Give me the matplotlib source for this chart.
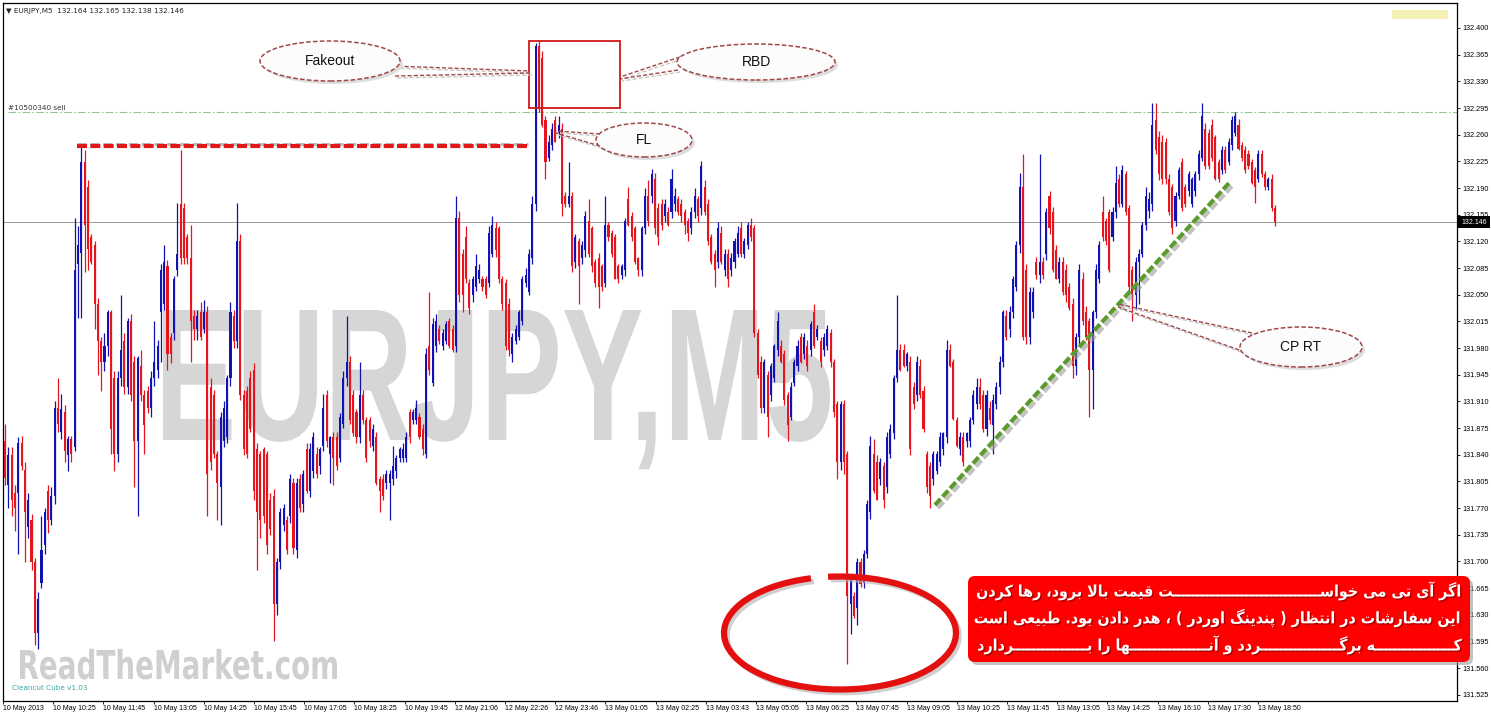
import re
import numpy as np
import matplotlib
matplotlib.use("Agg")
import matplotlib.pyplot as plt
from matplotlib.patches import Rectangle, Ellipse, Arc, FancyBboxPatch, PathPatch
from matplotlib.textpath import TextPath
from matplotlib.font_manager import FontProperties
from matplotlib.transforms import Affine2D, IdentityTransform
import matplotlib.patheffects as pe

plt.rcParams['font.family'] = ['DejaVu Sans']

# ---------------- data (prices in points of 0.001 above BASE) ----------------
BASE = 131.500
PT = 0.001

open_pts = [
    358,300,340,290,290,355,320,245,254,199, 106,172,221,292,254,286,401,370,396,340,
    360,350,590,605,724,691,626,615,538,489, 461,483,527,440,341,440,489,429,516,461,
    358,456,418,423,401,440,451,527,538,587, 494,500,582,669,664,626,598,522,505,527,
    505,527,429,418,341,297,358,363,440,522, 489,620,418,423,440,451,347,341,347,341,
    281,286,144,199,248,254,259,303,215,308, 275,347,292,319,341,325,352,
    418,341,363,363,336,380,440,461,418,396, 363,418,385,385,352,363,308,308,303,303,
    308,319,336,336,336,396,385,385,390,374, 341,483,434,483,505,483,489,516,505,483,
    650,604,626,565,549,560,571,571,571,565, 604,637,637,571,565,538,472,489,494,516,
    565,554,598,669,877,861,779,730,746,779, 762,768,680,669,680,593,620,598,609,647,
    637,593,598,587,565,642,631,626,587,576, 582,675,653,637,598,
    582,637,680,680,702,664,669,653,658,658, 669,675,669,658,647,637,658,675,664,691,
    669,626,604,593,631,582,604,582,593,604, 637,604,615,642,637,500,461,401,445,418,
    440,478,483,472,418,390,434,456,494,472, 483,478,527,494,489,478,483,500,461,407,
    330,407,341,144,155,139,199,172,210,265, 341,330,308,325,297,341,368,440,478,478,
    456,461,429,418,456,423,341,325,308,319, 330,347,363,478,461,385,347,
    363,358,358,385,407,429,418,374,401,379, 407,429,461,522,505,527,560,615,691,582,
    494,527,593,576,593,604,680,658,609,571, 593,582,560,538,456,494,571,527,516,451,
    527,571,658,647,658,626,658,702,669,708, 664,582,549,593,604,642,660,669,779,757,
    751,751,702,691,647,680,724,691,686,669, 686,708,730,768,762,773,757,724,713,740,
    724,746,762,773,746,740,735,724,713,702, 735,708,691,702,664,
]
high_pts = [
    380,350,350,300,363,365,330,290,262,205, 160,260,270,300,297,410,440,420,405,365,
    365,650,640,745,740,700,630,620,545,495, 500,530,530,450,450,550,500,520,525,470,
    470,478,425,430,450,516,490,590,615,595, 500,575,670,740,670,630,642,530,530,540,
    543,535,440,425,345,396,410,445,540,530, 670,630,425,430,450,460,355,345,350,345,
    290,295,205,270,275,260,315,310,310,315, 320,355,355,370,350,350,420,
    425,365,370,370,395,450,522,470,425,400, 461,425,390,390,380,370,312,315,320,320,
    352,340,350,355,370,400,400,412,395,380, 480,554,520,525,510,505,516,520,510,680,
    660,610,640,570,575,604,590,575,575,640, 653,645,640,575,570,545,500,510,530,575,
    585,610,680,880,883,870,785,760,775,785, 784,775,685,724,685,630,625,620,660,675,
    640,597,605,590,680,645,635,630,590,590, 650,691,658,640,600,
    640,690,700,715,710,670,675,675,665,715, 690,680,675,662,650,665,690,680,725,700,
    675,630,608,645,640,610,610,605,625,640, 645,625,645,650,642,505,470,465,450,460,
    485,527,490,478,422,435,465,490,500,500, 490,515,538,510,495,500,510,505,465,410,
    410,412,345,180,160,205,205,215,280,365, 360,340,335,330,370,380,445,549,485,485,
    475,470,435,470,465,430,345,330,345,345, 370,370,490,485,465,390,370,
    370,370,390,425,440,440,425,425,410,420, 435,470,530,530,535,575,620,710,735,590,
    560,560,600,735,600,664,686,665,615,600, 600,590,565,545,500,590,580,535,520,530,
    590,620,680,650,662,665,719,708,720,712, 668,587,600,610,645,691,685,801,801,765,
    760,755,708,695,685,718,730,695,712,705, 712,740,801,775,768,780,760,728,745,745,
    755,784,790,780,750,745,740,728,718,740, 740,712,705,708,668,
]
low_pts = [
    300,270,260,240,210,320,199,230,188,90, 85,165,210,237,248,275,370,360,330,319,
    330,345,520,520,580,582,590,505,445,423, 450,470,341,319,330,430,420,420,410,297,
    259,410,341,395,390,430,440,461,530,451, 460,490,575,590,590,590,461,490,490,490,
    500,259,320,335,254,248,350,355,430,480, 480,412,340,335,370,280,188,230,250,210,
    235,95,130,190,240,210,250,210,205,265, 265,290,285,310,310,315,345,
    350,303,300,320,330,375,430,380,365,355, 355,380,330,350,345,300,265,280,295,254,
    300,310,330,330,330,355,380,380,360,340, 335,445,430,475,485,478,485,480,475,475,
    540,527,565,525,540,555,565,555,545,560, 600,600,565,530,478,470,461,485,490,510,
    560,550,590,660,790,770,702,725,740,750, 755,653,665,665,580,585,538,590,600,600,
    580,560,533,555,560,620,600,570,565,570, 575,640,620,590,575,
    575,630,640,670,630,615,635,645,640,650, 660,655,645,630,620,630,650,645,655,655,
    615,590,560,585,590,575,560,575,585,600, 600,598,610,620,495,440,395,395,363,410,
    435,470,460,405,358,385,430,450,460,465, 450,470,480,490,455,470,478,455,390,308,
    320,315,65,105,125,117,166,165,205,255, 290,280,300,270,290,335,360,435,450,455,
    450,340,400,410,415,370,290,270,300,315, 325,340,355,455,385,350,340,
    325,350,350,380,400,400,370,365,380,341, 400,420,455,490,495,520,555,605,490,485,
    485,520,570,565,570,595,630,580,570,565, 550,540,530,440,445,485,510,490,390,400,
    520,565,620,615,580,620,650,665,665,655, 555,516,530,538,600,635,650,660,735,700,
    695,695,655,630,640,675,660,665,680,665, 680,700,725,715,715,725,700,698,708,710,
    720,740,758,740,725,710,715,695,670,698, 705,688,688,660,640,
]
close_pts = [
    310,340,280,270,355,325,265,281,199,106, 150,215,265,254,286,401,380,400,345,360,
    341,582,615,724,642,610,593,538,489,461, 483,527,374,341,440,478,429,516,418,358,
    467,418,379,401,440,461,483,582,593,472, 472,571,604,598,598,598,516,505,522,494,
    527,314,330,341,303,390,401,440,527,489, 620,418,347,341,374,292,265,254,259,221,
    243,144,199,265,270,215,308,218,303,270, 314,292,347,363,314,347,401,
    358,363,336,325,390,440,461,385,368,363, 418,385,336,358,374,303,292,286,314,314,
    325,336,347,347,363,363,396,401,363,347, 472,451,511,516,489,500,511,483,478,650,
    549,549,571,533,571,587,582,560,549,631, 642,609,571,538,483,478,494,505,527,571,
    576,604,669,877,795,773,724,751,768,751, 773,669,669,680,587,626,587,615,653,604,
    587,565,560,560,642,626,604,571,571,587, 647,642,626,593,582,
    637,680,647,708,637,626,642,669,642,702, 680,658,653,642,631,658,680,653,719,658,
    620,593,582,637,593,604,571,598,620,631, 604,620,642,626,500,445,401,461,390,456,
    483,516,461,412,379,429,461,483,461,494, 456,511,483,505,461,494,505,461,396,330,
    407,330,155,177,128,199,170,210,275,352, 292,281,330,281,363,374,440,478,451,456,
    472,347,407,461,418,374,297,286,341,341, 363,368,478,456,387,352,363,
    330,368,385,418,429,407,374,418,385,412, 429,461,527,494,527,571,615,691,494,494,
    554,554,576,593,576,658,637,582,571,593, 554,549,533,456,494,582,516,494,451,527,
    582,615,626,620,582,658,697,669,713,658, 560,549,593,604,642,680,675,773,740,708,
    702,702,658,637,680,713,664,669,708,702, 708,735,784,719,719,730,702,702,740,713,
    751,779,784,741,730,713,719,697,691,735, 708,691,702,664,646,
]

price_tick_labels = ["132.400", "132.365", "132.330", "132.295", "132.260", "132.225",
                     "132.190", "132.155", "132.120", "132.085", "132.050", "132.015",
                     "131.980", "131.945", "131.910", "131.875", "131.840", "131.805",
                     "131.770", "131.735", "131.700", "131.665", "131.630", "131.595",
                     "131.560", "131.525"]
time_labels = ["10 May 2013", "10 May 10:25", "10 May 11:45", "10 May 13:05", "10 May 14:25",
               "10 May 15:45", "10 May 17:05", "10 May 18:25", "10 May 19:45", "12 May 21:06",
               "12 May 22:26", "12 May 23:46", "13 May 01:05", "13 May 02:25", "13 May 03:43",
               "13 May 05:05", "13 May 06:25", "13 May 07:45", "13 May 09:05", "13 May 10:25",
               "13 May 11:45", "13 May 13:05", "13 May 14:25", "13 May 16:10", "13 May 17:30",
               "13 May 18:50"]
header_text = "\u25bc EURJPY,M5  132.164 132.165 132.138 132.146"
sell_price = 132.290
current_price = 132.146
fakeout_level = 132.245
fa_lines = [
    "اگر آی تی می خواســــــــت قیمت بالا برود، رها کردن",
    "این سفارشات در انتظار ( پندینگ اوردر ) ، هدر دادن بود. طبیعی است",
    "کــــــه برگـــــــردد و آنــــــــها را بــــــــردارد",
]

# ---------------- Persian shaping (presentation forms + RTL order) ----------------
FORMS = {
    '\u0627': ('\uFE8D', '\uFE8E', None, None), '\u0622': ('\uFE81', '\uFE82', None, None),
    '\u0628': ('\uFE8F', '\uFE90', '\uFE91', '\uFE92'), '\u067E': ('\uFB56', '\uFB57', '\uFB58', '\uFB59'),
    '\u062A': ('\uFE95', '\uFE96', '\uFE97', '\uFE98'), '\u062E': ('\uFEA5', '\uFEA6', '\uFEA7', '\uFEA8'),
    '\u062F': ('\uFEA9', '\uFEAA', None, None), '\u0631': ('\uFEAD', '\uFEAE', None, None),
    '\u0633': ('\uFEB1', '\uFEB2', '\uFEB3', '\uFEB4'), '\u0634': ('\uFEB5', '\uFEB6', '\uFEB7', '\uFEB8'),
    '\u0637': ('\uFEC1', '\uFEC2', '\uFEC3', '\uFEC4'), '\u0638': ('\uFEC5', '\uFEC6', '\uFEC7', '\uFEC8'),
    '\u0639': ('\uFEC9', '\uFECA', '\uFECB', '\uFECC'), '\u0641': ('\uFED1', '\uFED2', '\uFED3', '\uFED4'),
    '\u0642': ('\uFED5', '\uFED6', '\uFED7', '\uFED8'), '\u0644': ('\uFEDD', '\uFEDE', '\uFEDF', '\uFEE0'),
    '\u0645': ('\uFEE1', '\uFEE2', '\uFEE3', '\uFEE4'), '\u0646': ('\uFEE5', '\uFEE6', '\uFEE7', '\uFEE8'),
    '\u0647': ('\uFEE9', '\uFEEA', '\uFEEB', '\uFEEC'), '\u0648': ('\uFEED', '\uFEEE', None, None),
    '\u06A9': ('\uFB8E', '\uFB8F', '\uFB90', '\uFB91'), '\u06AF': ('\uFB92', '\uFB93', '\uFB94', '\uFB95'),
    '\u06CC': ('\uFBFC', '\uFBFD', '\uFBFE', '\uFBFF'), '\u0640': ('\u0640', '\u0640', '\u0640', '\u0640'),
}
LAM_ALEF = {'\u0627': ('\uFEFB', '\uFEFC'), '\u0622': ('\uFEF5', '\uFEF6')}
MIRROR = {'(': ')', ')': '('}


def fa_visual(s):
    units = []
    i = 0
    while i < len(s):
        ch = s[i]
        if ch == '\u0644' and i + 1 < len(s) and s[i + 1] in LAM_ALEF:
            iso, fin = LAM_ALEF[s[i + 1]]
            units.append((ch, (iso, fin, None, None)))
            i += 2
            continue
        units.append((ch, FORMS.get(ch)))
        i += 1
    out = []
    for k, (ch, f) in enumerate(units):
        if f is None:
            out.append(MIRROR.get(ch, ch))
            continue
        prev = units[k - 1][1] if k > 0 else None
        nxt = units[k + 1][1] if k + 1 < len(units) else None
        jp = prev is not None and prev[2] is not None
        jn = f[2] is not None and nxt is not None
        if jp and jn:
            g = f[3]
        elif jp:
            g = f[1]
        elif jn:
            g = f[2]
        else:
            g = f[0]
        out.append(g)
    return ''.join(reversed(out))


def lengthen(s):
    """add one kashida to the shortest kashida run (text justification)"""
    runs = [m for m in re.finditer('\u0640+', s)]
    if not runs:
        return s
    m = min(runs, key=lambda r: r.end() - r.start())
    return s[:m.end()] + '\u0640' + s[m.end():]


# ---------------- figure ----------------
W, H = 1491, 714
fig = plt.figure(figsize=(W / 100, H / 100), dpi=100)
fig.patch.set_facecolor('white')
ax = fig.add_axes([3 / W, 13 / H, 1454 / W, 698 / H])

n = len(close_pts)
X_FIRST, X_LAST = 5.0, 1275.0
STEP = (X_LAST - X_FIRST) / (n - 1)
K = 0.035 / 26.667


def bx(px):
    return (px - X_FIRST) / STEP


def pyp(py):
    return 132.400 - (py - 28) * K


def disp(px, py):
    return (px, H - py)


o = BASE + np.array(open_pts) * PT
c = BASE + np.array(close_pts) * PT
h = BASE + np.array(high_pts) * PT
l = BASE + np.array(low_pts) * PT
h = np.maximum(h, np.maximum(o, c))
l = np.minimum(l, np.minimum(o, c))
idx = np.arange(n)
BLUE, RED = '#1212b4', '#e6141c'
cols = np.where(c >= o, BLUE, RED)

ax.set_xlim(bx(3), bx(1457))
ax.set_ylim(pyp(701), pyp(3))


# watermarks (text fitted into box)
def fit_text(s, fam, x0, x1, ytop, ybase, color, z):
    fp = FontProperties(family=fam, weight='bold')
    tp = TextPath((0, 0), s, size=100, prop=fp)
    ext = tp.get_extents()
    cap = TextPath((0, 0), 'E', size=100, prop=fp).get_extents().y1
    sx = (x1 - x0) / (ext.x1 - ext.x0)
    sy = (ybase - ytop) / cap
    a = sx / STEP
    b = (x0 - ext.x0 * sx - X_FIRST) / STEP
    cc = sy * K
    d = pyp(ybase)
    tr = Affine2D().scale(a, cc).translate(b, d) + ax.transData
    ax.add_patch(PathPatch(tp, transform=tr, fc=color, ec='none', lw=0, zorder=z))


fit_text("EURJPY,M5", "Liberation Sans", 163, 830, 310, 440, '#d6d6d6', 0.5)
fit_text("ReadTheMarket.com", "DejaVu Sans", 20, 337, 650, 679, '#cfcfcf', 0.5)

# horizontal lines
ax.plot([bx(8), bx(1457)], [sell_price, sell_price], color='#96c496', lw=0.8,
        dashes=(7, 2, 1.5, 2), zorder=1)
ax.text(bx(8), pyp(110.5), "#10500340 sell", fontsize=5.2, color='#333333', va='bottom',
        ha='left', zorder=1)
ax.axhline(current_price, color='#9a9a9a', lw=0.7, zorder=1)

# candles
ax.vlines(idx, l, h, colors=cols, lw=0.9, zorder=3)
body_lo = np.minimum(o, c)
body_h = np.maximum(np.abs(c - o), 0.0008)
ax.bar(idx, body_h, bottom=body_lo, width=0.62, color=cols, lw=0, zorder=4)

# fakeout level dashed line
ax.plot([bx(77), bx(528)], [pyp(144), pyp(144)], color='#bdbdbd', lw=2.2, dashes=(3, 1.2),
        zorder=5)
ax.plot([bx(77), bx(528)], [fakeout_level, fakeout_level], color='#e01818', lw=3,
        dashes=(2.4, 0.8), zorder=5)

# trend line
ax.plot([bx(938), bx(1233)], [pyp(508), pyp(185)], color='#9a9a9a', lw=3, dashes=(2, 0.7),
        zorder=5, alpha=0.6)
ax.plot([bx(935), bx(1230)], [pyp(505), pyp(182)], color='#5c9a2e', lw=3, dashes=(2, 0.7),
        zorder=5)

# RBD rectangle
ax.add_patch(Rectangle((bx(529), pyp(108)), bx(620) - bx(529), pyp(41) - pyp(108), fill=False,
                       ec='#d01818', lw=1.3, zorder=6))

# callouts
EC = '#a04848'


def tail(p1, p2):
    for dx_, dy_, col in [(2, 2, '#c8c8c8'), (0, 0, EC)]:
        ax.plot([bx(p1[0] + dx_), bx(p2[0] + dx_)], [pyp(p1[1] + dy_), pyp(p2[1] + dy_)],
                color=col, lw=1.0, ls=(0, (3, 1.5)), zorder=6)


def callout(cx, cy, w, hh, text):
    ax.add_patch(Ellipse((bx(cx + 3), pyp(cy + 3)), w / STEP, hh * K, fc='#dedede', ec='none',
                         zorder=6))
    ax.add_patch(Ellipse((bx(cx), pyp(cy)), w / STEP, hh * K, fc='#fcfcfc', ec=EC, lw=1.1,
                         ls=(0, (3, 1.5)), zorder=7))
    ax.text(bx(cx), pyp(cy), text, fontsize=10, family='Liberation Sans', ha='center',
            va='center', color='#111111', zorder=8)


tail((392, 66), (530, 71))
tail((395, 76), (530, 73))
tail((680, 57), (620, 77))
tail((678, 70), (620, 79))
tail((600, 134), (556, 131))
tail((600, 146), (556, 133))
tail((1252, 333), (1118, 304))
tail((1245, 352), (1118, 307))
callout(330, 61, 140, 40, "Fakeout")
callout(756, 62, 158, 36, "RBD")
callout(644, 140, 96, 34, "FL")
callout(1301, 347, 122, 40, "CP RT")

# red hand-drawn circle
ax.add_patch(Arc(disp(843, 636), 232, 113, theta1=118, theta2=462, color='#b0b0b0', lw=4,
                 alpha=0.6, transform=IdentityTransform(), zorder=8, clip_on=False))
ax.add_patch(Arc(disp(840, 633), 232, 113, theta1=118, theta2=462, color='#e41010', lw=4.5,
                 transform=IdentityTransform(), zorder=9, clip_on=False))

# red text box
ax.add_patch(FancyBboxPatch((971, H - 665), 502, 86, boxstyle='round,pad=0,rounding_size=7',
                            fc='#9a9a9a', ec='none', alpha=0.6, transform=IdentityTransform(),
                            zorder=10, clip_on=False))
ax.add_patch(FancyBboxPatch((968, H - 662), 502, 86, boxstyle='round,pad=0,rounding_size=7',
                            fc='#ff0000', ec='none', transform=IdentityTransform(),
                            zorder=10, clip_on=False))
renderer = fig.canvas.get_renderer()
TARGET = 485.0
texts = []
for line, yy in zip(fa_lines, [591, 618, 645]):
    t = ax.text(1462, H - yy, fa_visual(line), transform=IdentityTransform(), ha='right',
                va='center', color='white', fontsize=13, fontweight='bold',
                fontstretch='condensed', family='DejaVu Sans', clip_on=False, zorder=11,
                path_effects=[pe.withSimplePatchShadow(offset=(1, -1), shadow_rgbFace='#600000',
                                                       alpha=0.5)])
    texts.append(t)
# common font size from the longest (unstretched) line
w2 = texts[1].get_window_extent(renderer).width
fs = min(13 * TARGET / w2, 14.5)
for t, line in zip(texts, fa_lines):
    t.set_fontsize(fs)
    cur = line
    for _ in range(200):
        if t.get_window_extent(renderer).width >= TARGET - 3 or '\u0640' not in cur:
            break
        cur = lengthen(cur)
        t.set_text(fa_visual(cur))

# misc texts
fig.text(6 / W, 1 - 11 / H, header_text, fontsize=5.2, va='center', ha='left', color='#222222')
ax.text(bx(12), pyp(688), "Cleancut Cube v1.03", fontsize=5.2, color='#3aa5a5', ha='left',
        va='center', zorder=2)
ax.add_patch(Rectangle(disp(1392, 19), 56, 9, fc='#f4efb4', ec='none',
                       transform=IdentityTransform(), zorder=2))

# axes / ticks
for sp in ax.spines.values():
    sp.set_color('black')
    sp.set_linewidth(0.9)
ax.yaxis.tick_right()
ax.set_yticks([float(v) for v in price_tick_labels])
ax.set_yticklabels(price_tick_labels, family='Liberation Sans')
ax.tick_params(axis='y', length=2.5, width=0.6, labelsize=5.2, pad=1.5)
ax.set_xticks([bx(3 + 50.2 * k) for k in range(len(time_labels))])
ax.set_xticklabels(time_labels, family='Liberation Sans')
for lbl in ax.get_xticklabels():
    lbl.set_ha('left')
ax.tick_params(axis='x', length=2, width=0.6, labelsize=5.0, pad=1)

# current price label
ax.add_patch(Rectangle(disp(1457, 228), 33, 12, fc='black', ec='none',
                       transform=IdentityTransform(), zorder=12, clip_on=False))
ax.text(1461, H - 222, "132.146", fontsize=5.0, family='Liberation Sans', color='white',
        va='center', ha='left', transform=IdentityTransform(), zorder=13, clip_on=False)

fig.savefig("out.png", dpi=100)
